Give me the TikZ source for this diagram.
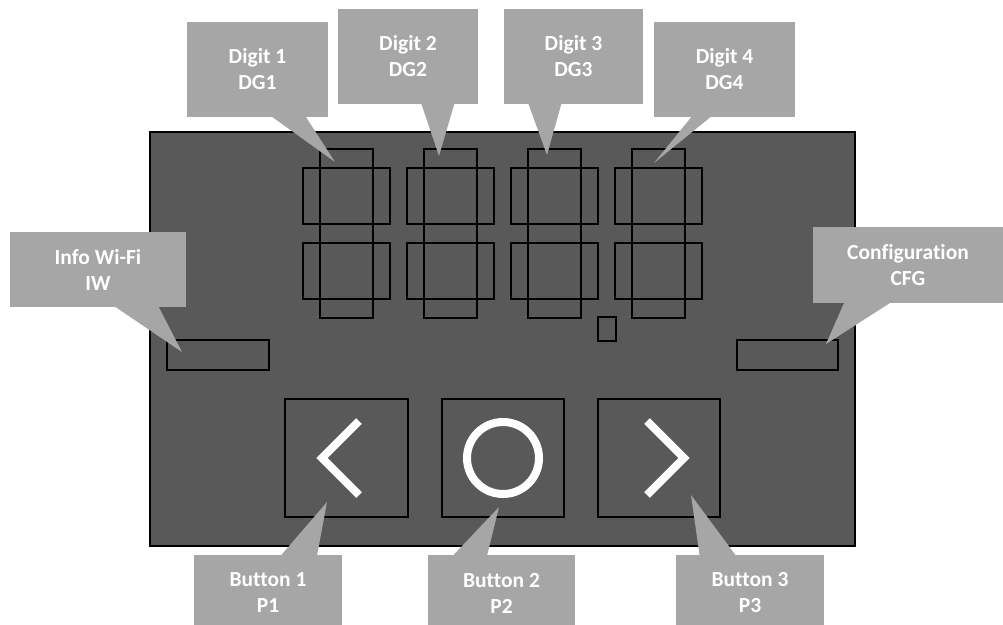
\documentclass[tikz,border=0pt]{standalone}
\usepackage{fontspec}
\setmainfont{Carlito}[Ligatures=NoCommon]
\definecolor{panelgray}{HTML}{595959}
\definecolor{callgray}{HTML}{A6A6A6}
\tikzset{
  callout/.style={fill=callgray, text=white, inner sep=0pt, align=center,
    font=\fontsize{21.5pt}{26pt}\selectfont\bfseries},
  pointer/.style={fill=callgray},
  segment/.style={draw=black, line width=1.2pt},
  btnbox/.style={draw=black, line width=1.2pt},
  glyph/.style={draw=white, line width=8pt, line join=miter}
}
\begin{document}
\begin{tikzpicture}[x=1pt, y=-1pt]
\useasboundingbox (0,0) rectangle (1003,624);
\clip (0,0) rectangle (1003,624);
% panel
\node[draw=black, fill=panelgray, line width=1.2pt, minimum width=705pt, minimum height=414pt, inner sep=0pt] (panel) at (502.5,339) {};
% digits
\foreach \i in {0,1,2,3}{
  \pgfmathsetmacro{\dx}{104*\i}
  \draw[segment] (320+\dx,149) rectangle (373+\dx,318);
  \draw[segment] (303+\dx,168) rectangle (390+\dx,224);
  \draw[segment] (303+\dx,243) rectangle (390+\dx,299);
}
% decimal point
\node[segment, minimum width=18pt, minimum height=24pt, inner sep=0pt] (dp) at (607,329) {};
% IW and CFG bars
\node[segment, minimum width=102pt, minimum height=30pt, inner sep=0pt] (iwbar) at (218,355) {};
\node[segment, minimum width=101pt, minimum height=30pt, inner sep=0pt] (cfgbar) at (787.5,355) {};
% buttons
\node[btnbox, minimum width=123pt, minimum height=118pt, inner sep=0pt] (b1) at (346.5,458) {};
\node[btnbox, minimum width=122pt, minimum height=118pt, inner sep=0pt] (b2) at (503,458) {};
\node[btnbox, minimum width=122pt, minimum height=118pt, inner sep=0pt] (b3) at (659,458) {};
\draw[glyph] (359,421) -- (322,458) -- (359,495);
\draw[glyph] (647,421) -- (684,458) -- (647,495);
\draw[white, line width=8pt] (b2.center) circle[radius=36];
% pointer tips
\coordinate (t1) at (335,162);
\coordinate (t2) at (439,156);
\coordinate (t3) at (547,155);
\coordinate (t4) at (654,163);
\coordinate (tiw) at (182,352);
\coordinate (tcfg) at (826,344);
\coordinate (tp1) at (327,502);
\coordinate (tp2) at (499,507);
\coordinate (tp3) at (691,495);
% callouts
\node[callout, minimum width=141pt, minimum height=95pt] (dg1) at (257.5,69.5) {Digit 1\\DG1};
\node[callout, minimum width=140pt, minimum height=95pt] (dg2) at (408,56.5) {Digit 2\\DG2};
\node[callout, minimum width=139pt, minimum height=95pt] (dg3) at (573.5,56.5) {Digit 3\\DG3};
\node[callout, minimum width=141pt, minimum height=95pt] (dg4) at (724.5,69.5) {Digit 4\\DG4};
\node[callout, minimum width=176pt, minimum height=75pt] (iw) at (98,269.5) {Info Wi-Fi\\IW};
\node[callout, minimum width=190pt, minimum height=76pt] (cfg) at (908,265) {Configuration\\CFG};
\node[callout, minimum width=148pt, minimum height=76pt] (p1) at (268,593) {Button 1\\P1};
\node[callout, minimum width=147pt, minimum height=76pt] (p2) at (501.5,593) {Button 2\\P2};
\node[callout, minimum width=148pt, minimum height=76pt] (p3) at (750,593) {Button 3\\P3};
% pointers
\fill[pointer] (dg1.south west) ++(83,-2) -- ++(35,0) -- (t1) -- cycle;
\fill[pointer] (dg2.south west) ++(83,-2) -- ++(34,0) -- (t2) -- cycle;
\fill[pointer] (dg3.south west) ++(24,-2) -- ++(34,0) -- (t3) -- cycle;
\fill[pointer] (dg4.south west) ++(39,-2) -- ++(20,0) -- (t4) -- cycle;
\fill[pointer] (iw.south west) ++(103,-2) -- ++(45,0) -- (tiw) -- cycle;
\fill[pointer] (cfg.south west) ++(32,-2) -- ++(48,0) -- (tcfg) -- cycle;
\fill[pointer] (p1.north west) ++(86,2) -- ++(37,0) -- (tp1) -- cycle;
\fill[pointer] (p2.north west) ++(24,2) -- ++(35,0) -- (tp2) -- cycle;
\fill[pointer] (p3.north west) ++(24,2) -- ++(37,0) -- (tp3) -- cycle;
\end{tikzpicture}
\end{document}
